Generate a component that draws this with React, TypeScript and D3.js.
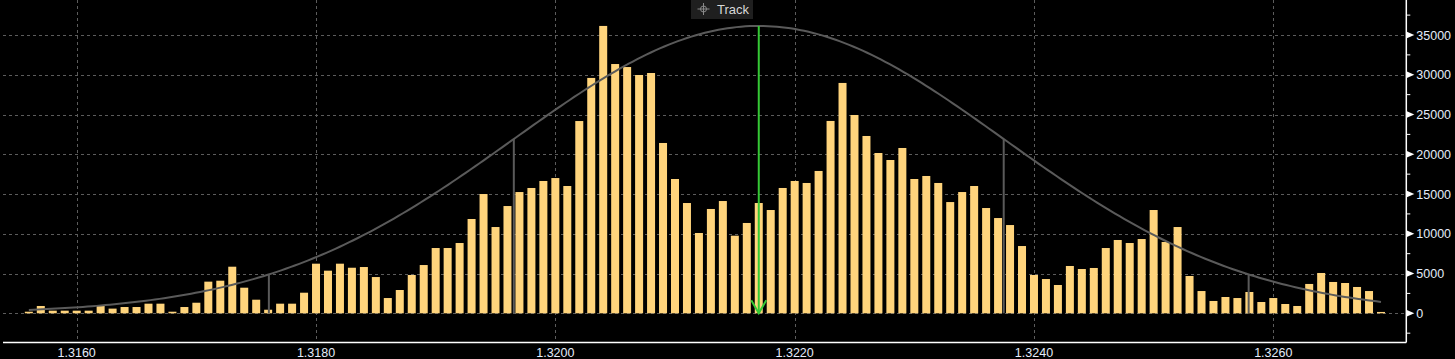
import React from "react";
import * as d3 from "d3";

const W = 1455;
const H = 359;

const PRICE_START = 1.3156;
const PRICE_STEP = 0.0001;
const volumes: number[] = [
  200, 920, 330, 330, 330, 330, 920, 590, 790, 790,
  1210, 1210, 200, 790, 1330, 3980, 4100, 5860, 3220, 1710,
  450, 1210, 1210, 2590, 6240, 5360, 6240, 5730, 5820, 4560,
  1920, 2930, 4820, 6070, 8210, 8210, 8840, 11860, 15000, 10850,
  13490, 15250, 15760, 16640, 17010, 16010, 24180, 29600, 36140, 31350,
  30970, 29970, 30220, 21420, 16890, 13870, 10100, 13120, 14120, 9760,
  11360, 13870, 12990, 15760, 16640, 16390, 17900, 24190, 28970, 24940,
  22300, 20160, 19280, 20790, 16890, 17270, 16390, 13990, 15250, 16010,
  13240, 11980, 11100, 8460, 4820, 4310, 3560, 5950, 5570, 5700,
  8210, 9220, 8840, 9340, 12990, 8970, 10850, 4690, 2800, 1550,
  2050, 1920, 2680, 1420, 1920, 1170, 920, 3690, 5070, 3940,
  3810, 3310, 2800, 170,
];
const prices: number[] = volumes.map((_, i) => +(PRICE_START + i * PRICE_STEP).toFixed(4));

const xTicks = [1.316, 1.318, 1.32, 1.322, 1.324, 1.326];
const xTickLabels = ["1.3160", "1.3180", "1.3200", "1.3220", "1.3240", "1.3260"];
const yTicks = [0, 5000, 10000, 15000, 20000, 25000, 30000, 35000];
const yMinorTicks = [-2500, 2500, 7500, 12500, 17500, 22500, 27500, 32500, 37500];

// fitted normal distribution shown on the chart
const FIT_MEAN = 1.3217;
const FIT_SIGMA = 0.002047;
const FIT_PEAK = 36140;
const TRACK_PRICE = 1.3217;

const BG = "#000000";
const BAR = "#ffd47c";
const GRID = "#5c5c5c";
const CURVE = "#5a5a5a";
const AXIS = "#ffffff";
const LABEL = "#e4ecfa";
const GREEN = "#35c935";

export default function App() {
  const x = d3.scaleLinear().domain([1.316, 1.326]).range([76.7, 1273.3]);
  const y = d3.scaleLinear().domain([0, 35000]).range([313.3, 35]);
  const plotLeft = 3;
  const plotRight = 1406.3;
  const plotBottom = 342;
  const barW = 8;

  const fit = (p: number) => FIT_PEAK * Math.exp(-0.5 * Math.pow((p - FIT_MEAN) / FIT_SIGMA, 2));
  const curvePts: [number, number][] = [];
  const p0 = prices[0];
  const p1 = prices[prices.length - 1];
  const n = 300;
  for (let k = 0; k <= n; k++) {
    const p = p0 + ((p1 - p0) * k) / n;
    curvePts.push([x(p), y(fit(p))]);
  }
  const line = d3.line().curve(d3.curveLinear);
  const sigmaLines = [-2, -1, 1, 2].map((s) => FIT_MEAN + s * FIT_SIGMA);

  const gx = x(TRACK_PRICE);
  const gTop = y(fit(TRACK_PRICE));
  const gBot = y(0);

  return (
    <svg
      width={W}
      height={H}
      style={{ position: "absolute", left: 0, top: 0, display: "block" }}
      fontFamily="'Liberation Sans', Arial, sans-serif"
    >
      <rect x={0} y={0} width={W} height={H} fill={BG} />
      {/* horizontal grid */}
      {yTicks.map((t) => (
        <line
          key={"hg" + t}
          x1={plotLeft}
          x2={plotRight}
          y1={Math.round(y(t)) + 0.5}
          y2={Math.round(y(t)) + 0.5}
          stroke={GRID}
          strokeDasharray="3,3"
        />
      ))}
      {/* vertical grid */}
      {xTicks.map((t) => (
        <line
          key={"vg" + t}
          x1={Math.round(x(t)) + 0.5}
          x2={Math.round(x(t)) + 0.5}
          y1={0}
          y2={plotBottom}
          stroke={GRID}
          strokeDasharray="3,3"
        />
      ))}
      {/* bars */}
      {volumes.map((v, i) => {
        const cx = x(prices[i]);
        const top = y(v);
        return (
          <rect
            key={"b" + i}
            x={cx - barW / 2}
            y={top}
            width={barW}
            height={Math.max(0, y(0) - top)}
            fill={BAR}
          />
        );
      })}
      {/* sigma lines */}
      {sigmaLines.map((p, i) => (
        <line
          key={"s" + i}
          x1={x(p)}
          x2={x(p)}
          y1={y(0)}
          y2={y(fit(p))}
          stroke={CURVE}
          strokeWidth={2}
        />
      ))}
      {/* fitted curve */}
      <path d={line(curvePts) || ""} fill="none" stroke={CURVE} strokeWidth={2} />
      {/* track line */}
      <line x1={gx} x2={gx} y1={gTop} y2={gBot} stroke={GREEN} strokeWidth={2} />
      <polyline
        points={`${gx - 7.5},${gBot - 13} ${gx},${gBot} ${gx + 7.5},${gBot - 13}`}
        fill="none"
        stroke={GREEN}
        strokeWidth={2}
      />
      {/* x axis */}
      <line x1={plotLeft} x2={plotRight} y1={plotBottom + 0.5} y2={plotBottom + 0.5} stroke={AXIS} strokeWidth={1.5} />
      {xTicks.map((t, i) => (
        <text
          key={"xl" + t}
          x={x(t)}
          y={357}
          textAnchor="middle"
          fontSize={12.5}
          fill={LABEL}
        >
          {xTickLabels[i]}
        </text>
      ))}
      {/* y axis */}
      <line x1={plotRight} x2={plotRight} y1={0} y2={plotBottom + 0.5} stroke={AXIS} strokeWidth={1.5} />
      {yMinorTicks.map((t) => (
        <line key={"ym" + t} x1={plotRight} x2={plotRight + 4} y1={y(t)} y2={y(t)} stroke={AXIS} strokeWidth={1} />
      ))}
      {yTicks.map((t) => (
        <g key={"yl" + t}>
          <polygon
            points={`${plotRight},${y(t) - 3.5} ${plotRight + 8},${y(t)} ${plotRight},${y(t) + 3.5}`}
            fill={AXIS}
          />
          <text x={plotRight + 10} y={y(t) + 4.5} fontSize={12.5} fill={LABEL}>
            {String(t)}
          </text>
        </g>
      ))}
      {/* Track button */}
      <rect x={691} y={0} width={62} height={19} fill="#1f1f1f" />
      <g stroke="#8a8a8a" strokeWidth={1} fill="none">
        <circle cx={703.5} cy={9} r={3} />
        <line x1={697.5} x2={709.5} y1={9} y2={9} />
        <line x1={703.5} x2={703.5} y1={3} y2={15} />
      </g>
      <text x={717} y={13.5} fontSize={13} fill="#d8d8d8">
        Track
      </text>
    </svg>
  );
}
